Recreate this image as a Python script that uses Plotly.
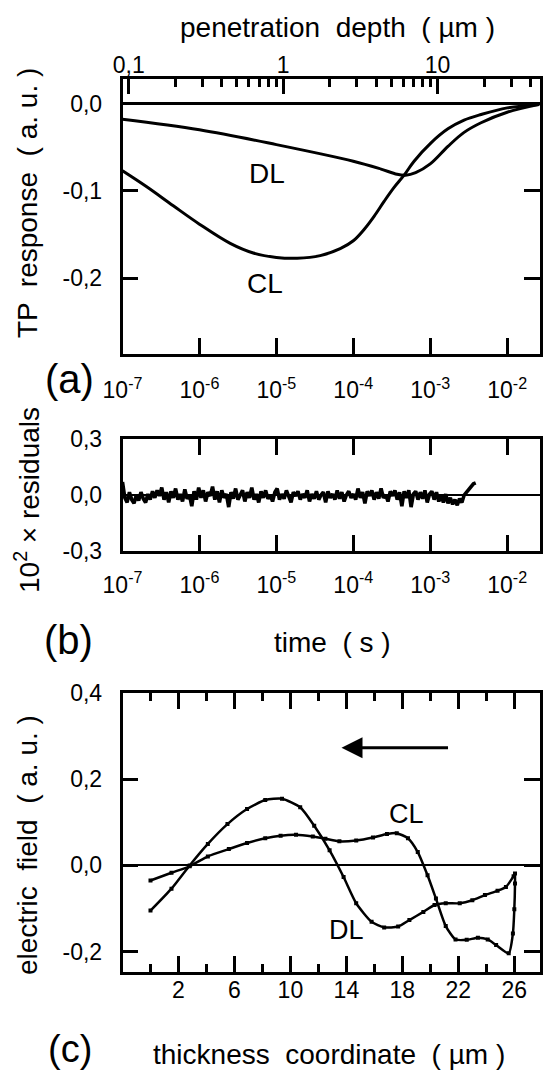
import numpy as np
import plotly.graph_objects as go

FONT = "Liberation Sans, Arial, Helvetica, sans-serif"
W, H = 543, 1073

# ---------------- Panel (a): TP response vs time ----------------
cl_lg_time = [-7.0, -6.69, -6.34, -6.0, -5.6, -5.3, -5.0, -4.73, -4.43, -4.17, -4.0,
              -3.86, -3.73, -3.6, -3.47, -3.34, -3.21, -2.99, -2.77, -2.56, -2.34, -2.0, -1.58]
cl_response = [-0.077, -0.095, -0.117, -0.138, -0.160, -0.171, -0.176, -0.177, -0.174, -0.166, -0.157,
               -0.144, -0.129, -0.112, -0.096, -0.082, -0.066, -0.045, -0.029, -0.019, -0.0126, -0.005, -0.001]
dl_lg_time = [-7.0, -6.0, -5.0, -4.0, -3.64, -3.43, -3.32, -3.19, -3.0, -2.77, -2.56, -2.34, -2.0, -1.58]
dl_response = [-0.018, -0.030, -0.047, -0.066, -0.075, -0.081, -0.082, -0.079, -0.069, -0.049,
               -0.033, -0.022, -0.010, -0.001]

time_tick_vals = [1e-7, 1e-6, 1e-5, 1e-4, 1e-3, 1e-2]
time_tick_text = ["10<sup>-7</sup>", "10<sup>-6</sup>", "10<sup>-5</sup>",
                  "10<sup>-4</sup>", "10<sup>-3</sup>", "10<sup>-2</sup>"]
depth_tick_vals = [0.1, 1, 10]
depth_tick_text = ["0,1", "1", "10"]
depth_minor_vals = [0.2, 0.3, 0.4, 0.5, 0.6, 0.7, 0.8, 0.9,
                    2, 3, 4, 5, 6, 7, 8, 9, 20, 30, 40]
tp_tick_vals = [0.0, -0.1, -0.2]
tp_tick_text = ["0,0", "-0,1", "-0,2"]

# ---------------- Panel (b): residuals ----------------
residuals = [
    0.07, -0.015, -0.04, 0.015, -0.025, -0.045, 0.0, -0.03, 0.015, -0.02, -0.04, 0.005, -0.025, 0.02, -0.015, 0.025, -0.005, 0.04, -0.025, 0.015,
    -0.04, 0.02, -0.015, 0.035, -0.025, 0.005, -0.035, 0.03, -0.02, 0.0, -0.06, 0.02, -0.025, 0.04, -0.015, 0.025, -0.035, 0.015, -0.005, 0.045,
    -0.025, 0.02, -0.04, 0.025, -0.015, 0.005, -0.065, 0.015, -0.02, 0.035, -0.025, 0.0, 0.025, -0.035, 0.015, -0.015, 0.04, -0.025, 0.005, -0.04,
    0.02, -0.015, 0.025, -0.02, 0.0, -0.035, 0.015, 0.035, -0.025, 0.005, -0.02, 0.025, -0.015, -0.04, 0.015, -0.005, 0.02, -0.025, 0.005, -0.015,
    0.025, -0.035, 0.005, -0.02, 0.02, -0.025, 0.0, 0.015, -0.04, 0.02, -0.015, 0.005, -0.025, 0.025, -0.02, 0.015, -0.035, 0.0, 0.02, -0.015,
    0.005, -0.025, 0.035, -0.015, 0.015, -0.045, 0.02, -0.005, 0.025, -0.025, 0.015, -0.02, 0.035, -0.015, 0.0, -0.035, 0.02, -0.005, 0.025, -0.025,
    0.015, -0.06, 0.02, -0.015, 0.025, -0.065, 0.005, 0.02, -0.025, 0.015, -0.02, 0.025, -0.04, 0.005, 0.02, -0.025, 0.015, -0.035, 0.0, -0.04,
    0.005, -0.045, -0.015, -0.05, -0.025, -0.055, -0.02, -0.04, 0.0, 0.015, 0.03, 0.045, 0.06, 0.065,
]
res_t_start, res_t_end = 1e-7, 3.9e-3
res_tick_vals = [0.3, 0.0, -0.3]
res_tick_text = ["0,3", "0,0", "-0,3"]

# ---------------- Panel (c): electric field ----------------
cl_thick = [0.0, 1.5, 2.8, 4.1, 5.6, 6.9, 8.2, 9.3, 10.4, 11.6, 12.5, 13.5, 14.7, 15.9, 16.9, 17.6,
            18.4, 19.1, 19.8, 20.4, 21.1, 21.8, 22.6, 23.4, 24.1, 24.7, 25.6, 25.9, 26.0, 26.05, 26.05]
cl_field = [-0.035, -0.017, -0.002, 0.021, 0.038, 0.052, 0.063, 0.069, 0.071, 0.067, 0.062, 0.056,
            0.058, 0.065, 0.073, 0.075, 0.063, 0.031, -0.023, -0.077, -0.141, -0.172, -0.173, -0.168,
            -0.172, -0.185, -0.204, -0.158, -0.102, -0.042, -0.019]
dl_thick = [0.0, 1.5, 2.8, 4.1, 5.5, 6.9, 8.2, 9.4, 10.7, 11.7, 12.8, 13.8, 14.7, 15.8, 16.7, 17.7,
            18.5, 19.5, 20.3, 21.1, 22.1, 23.0, 23.9, 24.8, 25.4, 25.95]
dl_field = [-0.105, -0.054, 0.0, 0.05, 0.096, 0.131, 0.152, 0.155, 0.135, 0.092, 0.035, -0.027,
            -0.088, -0.131, -0.144, -0.142, -0.127, -0.108, -0.092, -0.088, -0.088, -0.081, -0.069,
            -0.059, -0.05, -0.025]
thick_tick_vals = [2, 6, 10, 14, 18, 22, 26]
thick_minor_vals = [0, 4, 8, 12, 16, 20, 24]
field_tick_vals = [0.4, 0.2, 0.0, -0.2]
field_tick_text = ["0,4", "0,2", "0,0", "-0,2"]


def px(x):
    return x / W


def py(y):
    return 1 - y / H


XDOM = [px(122.5), px(539.5)]
LW = 2.5

common = dict(showline=True, linecolor="black", linewidth=LW, ticks="inside",
              tickcolor="black", tickwidth=LW, ticklen=16, showgrid=False,
              zeroline=False, automargin=False,
              tickfont=dict(family=FONT, size=23, color="black"))

fig = go.Figure()

# panel (a)
fig.add_trace(go.Scatter(x=10 ** np.array(cl_lg_time), y=cl_response, mode="lines",
                         line=dict(color="black", width=3, shape="spline", smoothing=1.0),
                         xaxis="x", yaxis="y", showlegend=False))
fig.add_trace(go.Scatter(x=10 ** np.array(dl_lg_time), y=dl_response, mode="lines",
                         line=dict(color="black", width=3, shape="spline", smoothing=1.0),
                         xaxis="x", yaxis="y", showlegend=False))
# empty trace so the top (penetration depth) axis is drawn
fig.add_trace(go.Scatter(x=[], y=[], xaxis="x2", yaxis="y", showlegend=False,
                         hoverinfo="skip"))

# panel (b)
res_t = np.geomspace(res_t_start, res_t_end, len(residuals))
fig.add_trace(go.Scatter(x=res_t, y=residuals, mode="lines",
                         line=dict(color="black", width=3.6),
                         xaxis="x3", yaxis="y2", showlegend=False))

# panel (c)
fig.add_trace(go.Scatter(x=cl_thick, y=cl_field, mode="lines+markers",
                         line=dict(color="black", width=2.5, shape="spline", smoothing=0.6),
                         marker=dict(symbol="square", size=4, color="black"),
                         xaxis="x4", yaxis="y3", showlegend=False))
fig.add_trace(go.Scatter(x=dl_thick, y=dl_field, mode="lines+markers",
                         line=dict(color="black", width=2.5, shape="spline", smoothing=0.6),
                         marker=dict(symbol="square", size=4, color="black"),
                         xaxis="x4", yaxis="y3", showlegend=False))

fig.update_layout(
    width=W, height=H,
    margin=dict(l=0, r=0, t=0, b=0, pad=0, autoexpand=False),
    paper_bgcolor="white", plot_bgcolor="white",
    font=dict(family=FONT, color="black"),
    showlegend=False,
    xaxis=dict(common, domain=XDOM, anchor="y", type="log", range=[-7, -1.58],
               tickmode="array", tickvals=time_tick_vals, ticktext=time_tick_text,
               mirror=False, ticklabelstandoff=14),
    xaxis2=dict(common, overlaying="x", anchor="y", side="top", type="log",
                range=[-1.04, 1.66], tickmode="array", tickvals=depth_tick_vals,
                ticktext=depth_tick_text, ticklabelstandoff=-6,
                minor=dict(tickmode="array", tickvals=depth_minor_vals, ticks="inside",
                           ticklen=9, tickwidth=LW, tickcolor="black")),
    yaxis=dict(common, domain=[py(354), py(78.5)], anchor="x", range=[-0.2865, 0.0286],
               tickmode="array", tickvals=tp_tick_vals, ticktext=tp_tick_text,
               mirror="ticks", ticklabelstandoff=13,
               zeroline=True, zerolinecolor="black", zerolinewidth=2.5),
    xaxis3=dict(common, domain=XDOM, anchor="y2", type="log", range=[-7, -1.58],
                tickmode="array", tickvals=time_tick_vals, ticktext=time_tick_text,
                mirror="ticks", ticklabelstandoff=12),
    yaxis2=dict(common, domain=[py(550.7), py(439.3)], anchor="x3", range=[-0.3, 0.3],
                tickmode="array", tickvals=res_tick_vals, ticktext=res_tick_text,
                mirror="ticks", ticklen=0, ticklabelstandoff=13,
                zeroline=True, zerolinecolor="black", zerolinewidth=2),
    xaxis4=dict(common, domain=XDOM, anchor="y3", range=[-2, 27.8],
                tickmode="array", tickvals=thick_tick_vals,
                ticktext=[str(v) for v in thick_tick_vals], mirror="ticks",
                ticklabelstandoff=-4,
                minor=dict(tickmode="array", tickvals=thick_minor_vals, ticks="inside",
                           ticklen=8, tickwidth=LW, tickcolor="black")),
    yaxis3=dict(common, domain=[py(971.7), py(693.3)], anchor="x4", range=[-0.247, 0.4],
                tickmode="array", tickvals=field_tick_vals, ticktext=field_tick_text,
                mirror="ticks", ticklabelstandoff=13,
                zeroline=True, zerolinecolor="black", zerolinewidth=2),
)

TITLE = 28
anns = []


def txt(text, x, y, size=TITLE, angle=0):
    anns.append(dict(text=text, x=px(x), y=py(y), xref="paper", yref="paper",
                     showarrow=False, xanchor="center", yanchor="middle", textangle=angle,
                     borderpad=0, font=dict(family=FONT, size=size, color="black")))


txt("penetration  depth  ( µm )", 337, 27)
txt("TP  response  ( a. u. )", 27, 203, angle=-90)
txt("(a)", 69, 379, size=40)
txt("10<sup>2</sup> × residuals", 27, 500, angle=-90)
txt("time  ( s )", 332, 642)
txt("(b)", 68, 640, size=40)
txt("electric  field  ( a. u. )", 27, 845, angle=-90)
txt("thickness  coordinate  ( µm )", 329, 1054)
txt("(c)", 70, 1049, size=38)

# curve labels
anns.append(dict(text="DL", x=-5.125, y=-0.080, xref="x", yref="y", showarrow=False,
                 font=dict(family=FONT, size=28, color="black")))
anns.append(dict(text="CL", x=-5.15, y=-0.206, xref="x", yref="y", showarrow=False,
                 font=dict(family=FONT, size=28, color="black")))
anns.append(dict(text="CL", x=18.28, y=0.119, xref="x4", yref="y3", showarrow=False,
                 font=dict(family=FONT, size=27, color="black")))
anns.append(dict(text="DL", x=14.0, y=-0.15, xref="x4", yref="y3", showarrow=False,
                 font=dict(family=FONT, size=27, color="black")))
# direction arrow
anns.append(dict(text="", x=13.65, y=0.2735, ax=21.37, ay=0.2735, xref="x4", yref="y3",
                 axref="x4", ayref="y3", showarrow=True, arrowhead=2, arrowsize=1.4,
                 arrowwidth=3, arrowcolor="black", standoff=0))

fig.update_layout(annotations=anns)
# remove the browser's default 8px body margin so the figure sits at the page origin
fig.write_html("out.html", config={"displayModeBar": False},
               post_script="document.body.style.margin='0';")
